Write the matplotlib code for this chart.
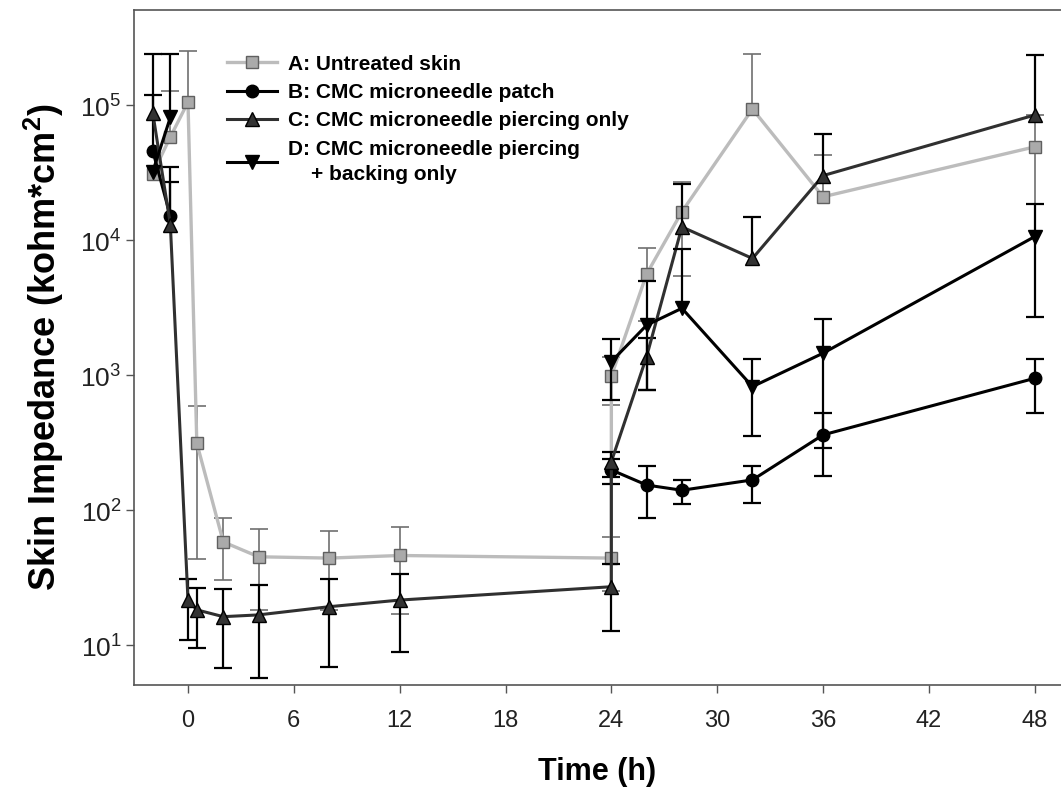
import numpy as np
import matplotlib
matplotlib.use("Agg")
import matplotlib.pyplot as plt
from matplotlib.ticker import FixedLocator, NullLocator
from matplotlib.lines import Line2D

nan = np.nan

# time points (h); 24 h appears twice (before / after removal)
t_a = [-2, -1, 0, 0.5, 2, 4, 8, 12, 24, 24, 26, 28, 32, 36, 48]
t_b = [-2, -1, 0, 24, 26, 28, 32, 36, 48]
t_c = [-2, -1, 0, 0.5, 2, 4, 8, 12, 24, 24, 26, 28, 32, 36, 48]
t_d = [-2, -1, 0, 24, 26, 28, 32, 36, 48]

# A: untreated skin
a_val = [3.1e4, 5.8e4, 1.05e5, 313, 58, 45, 44, 46, 44, 980, 5600, 16200, 93500, 20900, 49000]
a_hi = [nan, 1.26e5, 2.5e5, 590, 87, 72, 70, 75, 63, 1360, 8700, 27000, 2.4e5, 42800, 8.5e4]
a_lo = [nan, nan, nan, 43, 30.5, 18, 18, 17, 25, 600, 2500, 5400, nan, nan, 18600]

# B: CMC microneedle patch
b_val = [4.6e4, 1.5e4, nan, 198, 153, 140, 167, 360, 945]
b_hi = [1.18e5, 3.5e4, nan, 240, 212, 167, 212, 525, 1306]
b_lo = [nan, nan, nan, 155, 87, 111, 113, 180, 520]

# C: CMC microneedle piercing only
c_val = [8.8e4, 1.3e4, 21.5, 18.2, 16.2, 16.7, 19.2, 21.5, 27, 228, 1370, 12500, 7300, 30000, 84300]
c_hi = [2.4e5, 2.7e4, 31, 26.5, 26, 28, 31, 33.6, 40, 268, 1870, 26000, 14700, 61500, 2.34e5]
c_lo = [nan, nan, 10.9, 9.5, 6.7, 5.7, 6.9, 8.9, 12.6, 175, 776, nan, nan, nan, nan]

# D: CMC microneedle piercing + backing only
d_val = [3.2e4, 8.1e4, nan, 1256, 2340, 3120, 820, 1450, 10600]
d_hi = [nan, 2.4e5, nan, 1860, 5000, 8600, 1320, 2600, 18600]
d_lo = [nan, nan, nan, 653, 776, nan, 355, 290, 2700]

labels = ["A: Untreated skin",
          "B: CMC microneedle patch",
          "C: CMC microneedle piercing only",
          "D: CMC microneedle piercing\n    + backing only"]

x_ticks = [0, 6, 12, 18, 24, 30, 36, 42, 48]
y_ticks = [1e1, 1e2, 1e3, 1e4, 1e5]
y_ticklabels = ["10$^{1}$", "10$^{2}$", "10$^{3}$", "10$^{4}$", "10$^{5}$"]


def draw_series(ax, t, val, lo, hi, z, line_color, line_w, marker, msize,
                mface, medge, err_color, err_w, label):
    t = np.asarray(t, float)
    val = np.asarray(val, float)
    lo = np.asarray(lo, float)
    hi = np.asarray(hi, float)
    bottom = np.where(np.isnan(lo), val, lo)
    top = np.where(np.isnan(hi), val, hi)
    ax.vlines(t, bottom, top, color=err_color, lw=err_w, zorder=z)
    # caps
    ax.plot(t, lo, ls="none", marker="_", ms=13, mew=err_w, color=err_color, zorder=z)
    ax.plot(t, hi, ls="none", marker="_", ms=13, mew=err_w, color=err_color, zorder=z)
    ax.plot(t, val, color=line_color, lw=line_w, marker=marker, ms=msize,
            mfc=mface, mec=medge, mew=1.0, zorder=z + 0.1, label=label)


def main():
    plt.rcParams["font.family"] = ["Liberation Sans", "DejaVu Sans"]
    plt.rcParams["mathtext.fontset"] = "custom"
    plt.rcParams["mathtext.rm"] = "Liberation Sans"
    plt.rcParams["mathtext.bf"] = "Liberation Sans:bold"

    fig = plt.figure(figsize=(10.61, 7.98), dpi=100)
    ax = fig.add_axes([0.1263, 0.1416, 0.8737, 0.8459])

    draw_series(ax, t_a, a_val, a_lo, a_hi, 2.0, "#bcbcbc", 2.4, "s", 9,
                "#aaaaaa", "#606060", "#707070", 1.2, labels[0])
    draw_series(ax, t_b, b_val, b_lo, b_hi, 2.2, "black", 2.2, "o", 9,
                "black", "black", "black", 1.6, labels[1])
    draw_series(ax, t_c, c_val, c_lo, c_hi, 2.4, "#303030", 2.2, "^", 10,
                "#333333", "black", "black", 1.6, labels[2])
    draw_series(ax, t_d, d_val, d_lo, d_hi, 2.6, "black", 2.2, "v", 10,
                "black", "black", "black", 1.6, labels[3])

    ax.set_yscale("log")
    ax.set_xlim(-3.06, 49.49)
    ax.set_ylim(5.05, 5.06e5)

    ax.xaxis.set_major_locator(FixedLocator(x_ticks))
    ax.set_xticklabels([str(v) for v in x_ticks])
    ax.yaxis.set_major_locator(FixedLocator(y_ticks))
    ax.yaxis.set_minor_locator(NullLocator())
    ax.set_yticklabels(y_ticklabels)

    for side in ["left", "bottom", "top"]:
        ax.spines[side].set_color("#555555")
        ax.spines[side].set_linewidth(1.2)
    ax.spines["right"].set_visible(False)

    ax.tick_params(axis="both", direction="out", length=6, width=1.0,
                   color="#555555", labelcolor="#222222")
    ax.tick_params(axis="x", pad=12, labelsize=17)
    ax.tick_params(axis="y", pad=3, labelsize=19)

    ax.set_xlabel("Time (h)", fontsize=22, fontweight="bold", labelpad=18)
    ax.set_ylabel(r"Skin Impedance (kohm*cm$\mathbf{^{2}}$)", fontsize=26,
                  fontweight="bold", labelpad=10)

    handles = [
        Line2D([], [], color="#bcbcbc", lw=2.4, marker="s", ms=9, mfc="#aaaaaa", mec="#606060"),
        Line2D([], [], color="black", lw=2.2, marker="o", ms=9, mfc="black", mec="black"),
        Line2D([], [], color="#303030", lw=2.2, marker="^", ms=10, mfc="#333333", mec="black"),
        Line2D([], [], color="black", lw=2.2, marker="v", ms=10, mfc="black", mec="black"),
    ]
    leg = ax.legend(handles, labels, loc="upper left", bbox_to_anchor=(0.1, 0.934),
                    frameon=False, borderpad=0, borderaxespad=0, handlelength=2.4,
                    handletextpad=0.55, labelspacing=0.45,
                    prop={"size": 15, "weight": "bold"})
    for txt in leg.get_texts():
        txt.set_linespacing(1.45)

    fig.savefig("out.png", dpi=100)


if __name__ == "__main__":
    main()
